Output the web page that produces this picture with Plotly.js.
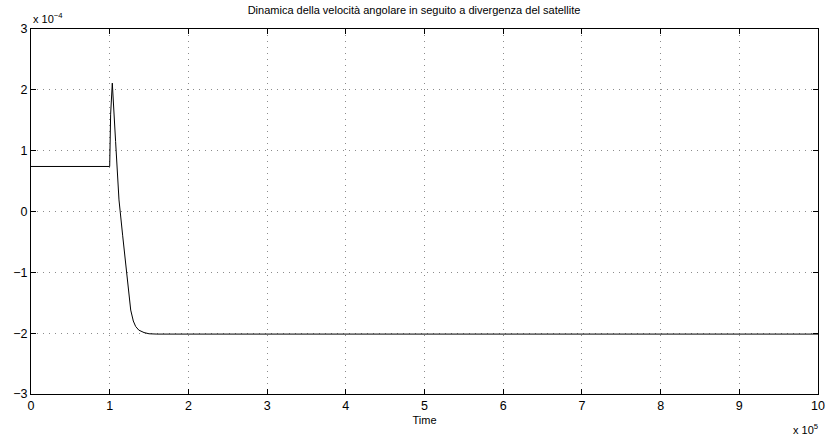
<!DOCTYPE html>
<html>
<head>
<meta charset="utf-8">
<script src="https://cdn.plot.ly/plotly-3.0.1.min.js"></script>
<style>html,body{margin:0;padding:0;background:#fff;}#chart{width:828px;height:438px;}</style>
</head>
<body>
<div id="chart"></div>
<script>
// Time in units of 1e5, angular velocity in units of 1e-4
const timeE5 = [0, 0.999, 1.0, 1.012, 1.033, 1.075, 1.118, 1.165, 1.216, 1.267, 1.30, 1.33, 1.37, 1.436, 1.5, 1.6, 10];
const omegaE4 = [0.74, 0.74, 0.74, 1.6, 2.11, 1.15, 0.19, -0.40, -0.99, -1.62, -1.80, -1.89, -1.95, -1.99, -2.01, -2.015, -2.015];
const xTicks = [0,1,2,3,4,5,6,7,8,9,10];
const yTicks = [-3,-2,-1,0,1,2,3];
const titleText = 'Dinamica della velocità angolare in seguito a divergenza del satellite';

const font = {family: 'Liberation Sans, Arial, sans-serif', size: 12.5, color: '#000'};
const axisCommon = {
  showline: true, linecolor: '#000', linewidth: 1, mirror: 'ticks',
  ticks: 'inside', ticklen: 5, tickcolor: '#000', tickwidth: 1,
  showgrid: true, gridcolor: '#8c8c8c', griddash: '1px,5px', gridwidth: 1,
  zeroline: false, tickfont: font, fixedrange: true
};
Plotly.newPlot('chart', [{
  x: timeE5, y: omegaE4, type: 'scatter', mode: 'lines',
  line: {color: '#000', width: 1}, hoverinfo: 'skip'
}], {
  width: 828, height: 438,
  margin: {l: 31, r: 10, t: 29, b: 44},
  paper_bgcolor: '#fff', plot_bgcolor: '#fff',
  showlegend: false,
  font: font,
  title: {text: titleText, font: {family: font.family, size: 11, color: '#000'}, x: 0.5, xanchor: 'center', y: 0.985, yanchor: 'top'},
  xaxis: Object.assign({}, axisCommon, {range: [0, 10], tickvals: xTicks, ticktext: xTicks.map(String),
    title: {text: 'Time', font: {family: font.family, size: 11, color: '#000'}, standoff: 4}}),
  yaxis: Object.assign({}, axisCommon, {range: [-3, 3], tickvals: yTicks, ticktext: yTicks.map(v => v < 0 ? '\u2212' + Math.abs(v) : String(v))}),
  annotations: [
    {xref: 'paper', yref: 'paper', x: 0, y: 1, xanchor: 'left', yanchor: 'bottom', yshift: 2, showarrow: false,
     text: 'x 10<sup>\u22124</sup>', font: {family: font.family, size: 11, color: '#000'}},
    {xref: 'paper', yref: 'paper', x: 1, y: 0, xanchor: 'right', yanchor: 'top', yshift: -26, xshift: 2, showarrow: false,
     text: 'x 10<sup>5</sup>', font: {family: font.family, size: 11, color: '#000'}}
  ]
}, {displayModeBar: false, staticPlot: true});
</script>
</body>
</html>
